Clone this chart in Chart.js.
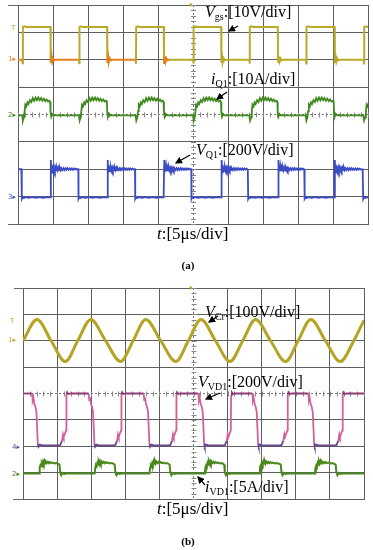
<!DOCTYPE html>
<html>
<head>
<meta charset="utf-8">
<script src="https://cdn.jsdelivr.net/npm/chart.js@4.4.0/dist/chart.umd.min.js"></script>
<style>
  body { margin: 0; background: #fff; }
  #wrap { position: relative; width: 373px; height: 550px; overflow: hidden; font-family: "Liberation Serif", "Times New Roman", serif; color: #000; }
  canvas { position: absolute; left: 0; }
  .lbl { position: absolute; font-size: 16px; line-height: 16px; white-space: nowrap; }
  .lbl sub { font-size: 10px; line-height: 0; vertical-align: -3px; }
  .tl { position: absolute; font-size: 17px; line-height: 17px; white-space: nowrap; }
  .cap { position: absolute; width: 20px; text-align: center; font-size: 11px; line-height: 11px; font-weight: bold; }
  .mk { position: absolute; font-family: "DejaVu Sans", sans-serif; font-size: 7px; line-height: 7px; }
  .edge { position: absolute; height: 1px; background: #666; }
</style>
</head>
<body>
<div id="wrap">
  <canvas id="scopeA" width="373" height="230" style="top:0"></canvas>
  <canvas id="scopeB" width="373" height="222" style="top:283px"></canvas>

  <div class="edge" style="left:8px;top:5px;width:10px"></div>
  <div class="edge" style="left:8px;top:224px;width:10px"></div>
  <div class="edge" style="left:14px;top:288px;width:9px"></div>
  <div class="edge" style="left:13px;top:499px;width:10px"></div>

  <div class="mk" style="left:11px;top:25px;color:#b8a830">T</div>
  <div class="mk" style="left:8px;top:56px;color:#e0801c">1▸</div>
  <div class="mk" style="left:8px;top:112px;color:#3a8a1a">2▸</div>
  <div class="mk" style="left:8px;top:194px;color:#4050c0">3▸</div>
  <div class="mk" style="left:189px;top:2px;color:#b8a830">▾</div>
  <div class="mk" style="left:10px;top:318px;color:#b8a830">T</div>
  <div class="mk" style="left:8px;top:337px;color:#b8a830">1▸</div>
  <div class="mk" style="left:12px;top:444px;color:#6b4690">4▸</div>
  <div class="mk" style="left:12px;top:471px;color:#3a8a1a">2▸</div>
  <div class="mk" style="left:189px;top:285px;color:#b8a830">▾</div>

  <div class="lbl" style="left:205px;top:4px"><i>V</i><sub>gs</sub>:[10V/div]</div>
  <div class="lbl" style="left:211px;top:71px"><i>i</i><sub>Q1</sub>:[10A/div]</div>
  <div class="lbl" style="left:196px;top:142px"><i>V</i><sub>Q1</sub>:[200V/div]</div>
  <div class="tl" style="left:157px;top:225px"><i>t</i>:[5μs/div]</div>
  <div class="cap" style="left:178px;top:260px">(a)</div>

  <div class="lbl" style="left:205px;top:304px"><i>V</i><sub>Cr</sub>:[100V/div]</div>
  <div class="lbl" style="left:198px;top:374px"><i>V</i><sub>VD1</sub>:[200V/div]</div>
  <div class="lbl" style="left:205px;top:479px"><i>i</i><sub>VD1</sub>:[5A/div]</div>
  <div class="tl" style="left:157px;top:500px"><i>t</i>:[5μs/div]</div>
  <div class="cap" style="left:178px;top:536px">(b)</div>

  <svg width="373" height="550" style="position:absolute;left:0;top:0">
    <defs>
      <marker id="ah" markerWidth="6" markerHeight="6" refX="5" refY="3" orient="auto">
        <path d="M0,0 L6,3 L0,6 z" fill="#000"/>
      </marker>
    </defs>
    <g stroke="#000" stroke-width="1.2" marker-end="url(#ah)">
      <line x1="238" y1="26" x2="229" y2="31"/>
      <line x1="227" y1="92" x2="217" y2="99"/>
      <line x1="190" y1="155" x2="176" y2="163"/>
      <line x1="218" y1="316" x2="209" y2="322"/>
      <line x1="220" y1="393" x2="206" y2="399"/>
      <line x1="205" y1="485" x2="198" y2="477"/>
    </g>
  </svg>
</div>

<script>
// x in divisions (0..10, 5us/div), y in divisions (0..8) as on the scope screen

// (a) gate voltage
const vgsRise = [0.134, 1.751, 3.371, 5.014, 6.62, 8.237, 9.886];
const vgsFall = [0.934, 2.551, 4.171, 5.809, 7.429, 9.049];
const vgsRiseShape = [[-0.012, 6.0], [0, 5.86], [0.006, 7.2], [0.05, 7.22], [0.1, 7.2]];
const vgsFallShape = [[-0.006, 7.2], [0, 6.0], [0.006, 5.88], [0.025, 6.12], [0.045, 5.93], [0.07, 6.05], [0.1, 5.98], [0.14, 6.0]];

// (a) switch current
const iq1Start = [0.12, 1.74, 3.36, 5.0, 6.61, 8.22, 9.87];
const iq1Pulse = [[0, 3.97], [0.02, 3.78], [0.05, 3.9], [0.07, 4.12], [0.09, 4.36], [0.12, 4.3], [0.15, 4.44],
  [0.18, 4.38], [0.22, 4.52], [0.26, 4.45], [0.30, 4.6], [0.34, 4.5], [0.38, 4.62], [0.42, 4.52], [0.46, 4.62],
  [0.50, 4.52], [0.54, 4.6], [0.58, 4.5], [0.62, 4.58], [0.66, 4.49], [0.70, 4.55], [0.74, 4.47], [0.78, 4.5],
  [0.80, 4.46], [0.81, 4.08], [0.83, 3.92], [0.86, 4.02], [0.9, 3.97]];

// (a) drain-source voltage
const vq1Fall = [0.106, 1.723, 3.343, 4.951, 6.571, 8.191, 9.857];
const vq1Rise = [0.934, 2.551, 4.171, 5.809, 7.429, 9.049];
const vq1RiseShape = [[-0.01, 0.97], [0, 0.97], [0.008, 2.34], [0.02, 1.88], [0.035, 2.16], [0.05, 1.92],
  [0.065, 2.1], [0.08, 1.94], [0.1, 2.07], [0.12, 1.95], [0.14, 2.06], [0.16, 1.96], [0.18, 2.05], [0.2, 1.96],
  [0.22, 2.05], [0.24, 1.97], [0.26, 2.05], [0.28, 1.97], [0.3, 2.04], [0.33, 1.97], [0.36, 2.04], [0.39, 1.97],
  [0.42, 2.04], [0.45, 1.98], [0.48, 2.04], [0.51, 1.98], [0.54, 2.03], [0.57, 1.98], [0.6, 2.03], [0.63, 1.98],
  [0.66, 2.03], [0.69, 1.99], [0.72, 2.02], [0.75, 1.99]];
const vq1FallShape = [[-0.01, 2.0], [0, 2.0], [0.006, 0.92], [0.03, 0.99], [0.06, 0.95], [0.1, 0.98], [0.2, 0.96],
  [0.3, 0.98], [0.4, 0.96], [0.5, 0.98], [0.6, 0.96], [0.7, 0.97]];

// (b) resonant capacitor voltage
const vcrX = [0, 0.41, 0.825, 1.24, 1.605, 1.99, 2.42, 2.86, 3.23, 3.6, 4.04, 4.48, 4.85, 5.22, 5.645, 6.07, 6.445, 6.82, 7.26, 7.7, 8.07, 8.44, 8.87, 9.3, 9.7, 10];
const vcrY = [6.0, 6.81, 6.0, 5.21, 6.0, 6.81, 6.0, 5.21, 6.0, 6.81, 6.0, 5.21, 6.0, 6.81, 6.0, 5.21, 6.0, 6.81, 6.0, 5.21, 6.0, 6.81, 6.0, 5.21, 6.0, 6.78];

// (b) diode voltage
const vd1Fall = [0.264, 1.924, 3.537, 5.141, 6.724, 8.367];
const vd1Rise = [1.094, 2.707, 4.32, 5.924, 7.584, 9.196];
const vd1FallShape = [[0, 4.0], [0.02, 3.75], [0.04, 3.85], [0.07, 3.6], [0.1, 3.5], [0.13, 3.3], [0.17, 2.1],
  [0.19, 1.98], [0.23, 2.06], [0.3, 2.03]];
const vd1RiseShape = [[-0.05, 2.03], [0, 2.05], [0.05, 2.2], [0.08, 2.45], [0.1, 2.35], [0.14, 2.5], [0.17, 2.6],
  [0.18, 3.95], [0.2, 4.05], [0.24, 3.98], [0.3, 4.0]];

// (b) diode current
const id1Start = [0.47, 2.1, 3.71, 5.33, 6.93, 8.56];
const id1End = [1.07, 2.69, 4.3, 5.9, 7.56, 9.17];
const id1StartShape = [[0, 0.97], [0.02, 1.2], [0.04, 1.28], [0.06, 1.24], [0.08, 1.36], [0.1, 1.3], [0.12, 1.42],
  [0.14, 1.34], [0.16, 1.43], [0.18, 1.35], [0.2, 1.42], [0.23, 1.36], [0.26, 1.41], [0.29, 1.36], [0.32, 1.4],
  [0.36, 1.36], [0.4, 1.38], [0.45, 1.35], [0.5, 1.36]];
const id1EndShape = [[-0.03, 1.33], [0, 1.3], [0.02, 1.0], [0.05, 0.9], [0.09, 0.99], [0.14, 0.95], [0.2, 0.97]];

function build(startLevel, endLevel, groups) {
  let events = [];
  groups.forEach(g => g.times.forEach(t => events.push([t, g.shape])));
  events.sort((a, b) => a[0] - b[0]);
  const pts = [{ x: 0, y: startLevel }];
  events.forEach(([t, shape]) => shape.forEach(([dx, v]) => pts.push({ x: t + dx, y: v })));
  if (pts[pts.length - 1].x < 10) pts.push({ x: 10, y: endLevel });
  return pts;
}

const gridColor = '#5e5e5e';

const centerTicks = {
  id: 'centerTicks',
  beforeDatasetsDraw(chart) {
    const { ctx, scales: { x, y } } = chart;
    const xc = x.getPixelForValue(5), yc = y.getPixelForValue(4);
    ctx.save();
    ctx.strokeStyle = '#888';
    ctx.lineWidth = 1;
    ctx.beginPath();
    for (let v = 0; v <= 8.001; v += 0.2) {
      const py = Math.round(y.getPixelForValue(v)) + 0.5;
      ctx.moveTo(xc - 2, py); ctx.lineTo(xc + 3, py);
    }
    for (let v = 0; v <= 10.001; v += 0.2) {
      const px = Math.round(x.getPixelForValue(v)) + 0.5;
      ctx.moveTo(px, yc - 2); ctx.lineTo(px, yc + 3);
    }
    ctx.stroke();
    ctx.restore();
  }
};

function scope(id, padding, datasets) {
  return new Chart(document.getElementById(id), {
    type: 'line',
    data: { datasets },
    options: {
      responsive: false,
      animation: false,
      devicePixelRatio: 1,
      layout: { padding },
      plugins: { legend: { display: false }, tooltip: { enabled: false } },
      elements: { point: { radius: 0 }, line: { borderWidth: 1.8, tension: 0 } },
      scales: {
        x: {
          type: 'linear', min: 0, max: 10,
          ticks: { display: false, stepSize: 1 },
          grid: { color: c => c.tick.value === 5 ? 'rgba(0,0,0,0)' : gridColor, drawTicks: false },
          border: { color: gridColor }
        },
        y: {
          type: 'linear', min: 0, max: 8,
          ticks: { display: false, stepSize: 1 },
          grid: { color: c => c.tick.value === 4 ? 'rgba(0,0,0,0)' : gridColor, drawTicks: false },
          border: { color: gridColor }
        },
        xc: {
          type: 'linear', position: 'bottom', min: 0, max: 10,
          afterBuildTicks: s => { s.ticks = [{ value: 5 }]; },
          ticks: { display: false },
          grid: { color: '#777', drawTicks: false },
          border: { display: false, dash: [2, 2] }
        },
        yc: {
          type: 'linear', position: 'left', min: 0, max: 8,
          afterBuildTicks: s => { s.ticks = [{ value: 4 }]; },
          ticks: { display: false },
          grid: { color: '#777', drawTicks: false },
          border: { display: false, dash: [2, 2] }
        }
      }
    },
    plugins: [centerTicks]
  });
}

const lowSeg = (lim, below, color, maxX) => c =>
  ((below ? (c.p0.parsed.y < lim && c.p1.parsed.y < lim) : (c.p0.parsed.y > lim && c.p1.parsed.y > lim))
    && (maxX === undefined || c.p1.parsed.x < maxX)) ? color : undefined;

scope('scopeA', { left: 18, right: 5, top: 5, bottom: 6 }, [
  {
    label: 'Vgs',
    data: build(6.0, 7.2, [{ times: vgsRise, shape: vgsRiseShape }, { times: vgsFall, shape: vgsFallShape }]),
    borderColor: '#b9aa2a',
    borderWidth: 2,
    segment: { borderColor: lowSeg(6.3, true, '#e2801e', 4.6) },
    xAxisID: 'x', yAxisID: 'y'
  },
  {
    label: 'iQ1',
    data: build(3.97, 3.97, [{ times: iq1Start, shape: iq1Pulse }]),
    borderColor: '#3f8a1e',
    xAxisID: 'x', yAxisID: 'y'
  },
  {
    label: 'VQ1',
    data: build(2.0, 0.97, [{ times: vq1Rise, shape: vq1RiseShape }, { times: vq1Fall, shape: vq1FallShape }]),
    borderColor: '#3c4cc4',
    xAxisID: 'x', yAxisID: 'y'
  }
]);

scope('scopeB', { left: 23, right: 9, top: 5, bottom: 6 }, [
  {
    label: 'VCr',
    data: vcrX.map((x, i) => ({ x, y: vcrY[i] })),
    borderColor: '#b3a523',
    borderWidth: 3,
    cubicInterpolationMode: 'monotone',
    xAxisID: 'x', yAxisID: 'y'
  },
  {
    label: 'VVD1',
    data: build(4.0, 4.0, [{ times: vd1Fall, shape: vd1FallShape }, { times: vd1Rise, shape: vd1RiseShape }]),
    borderColor: '#d2609c',
    segment: {
      borderColor: c => lowSeg(3.8, false, '#8e3a74')(c) || lowSeg(2.3, true, '#6b4690')(c)
    },
    xAxisID: 'x', yAxisID: 'y'
  },
  {
    label: 'iVD1',
    data: build(0.97, 0.97, [{ times: id1Start, shape: id1StartShape }, { times: id1End, shape: id1EndShape }]),
    borderColor: '#4a8a1c',
    borderWidth: 2,
    xAxisID: 'x', yAxisID: 'y'
  }
]);
</script>
</body>
</html>
